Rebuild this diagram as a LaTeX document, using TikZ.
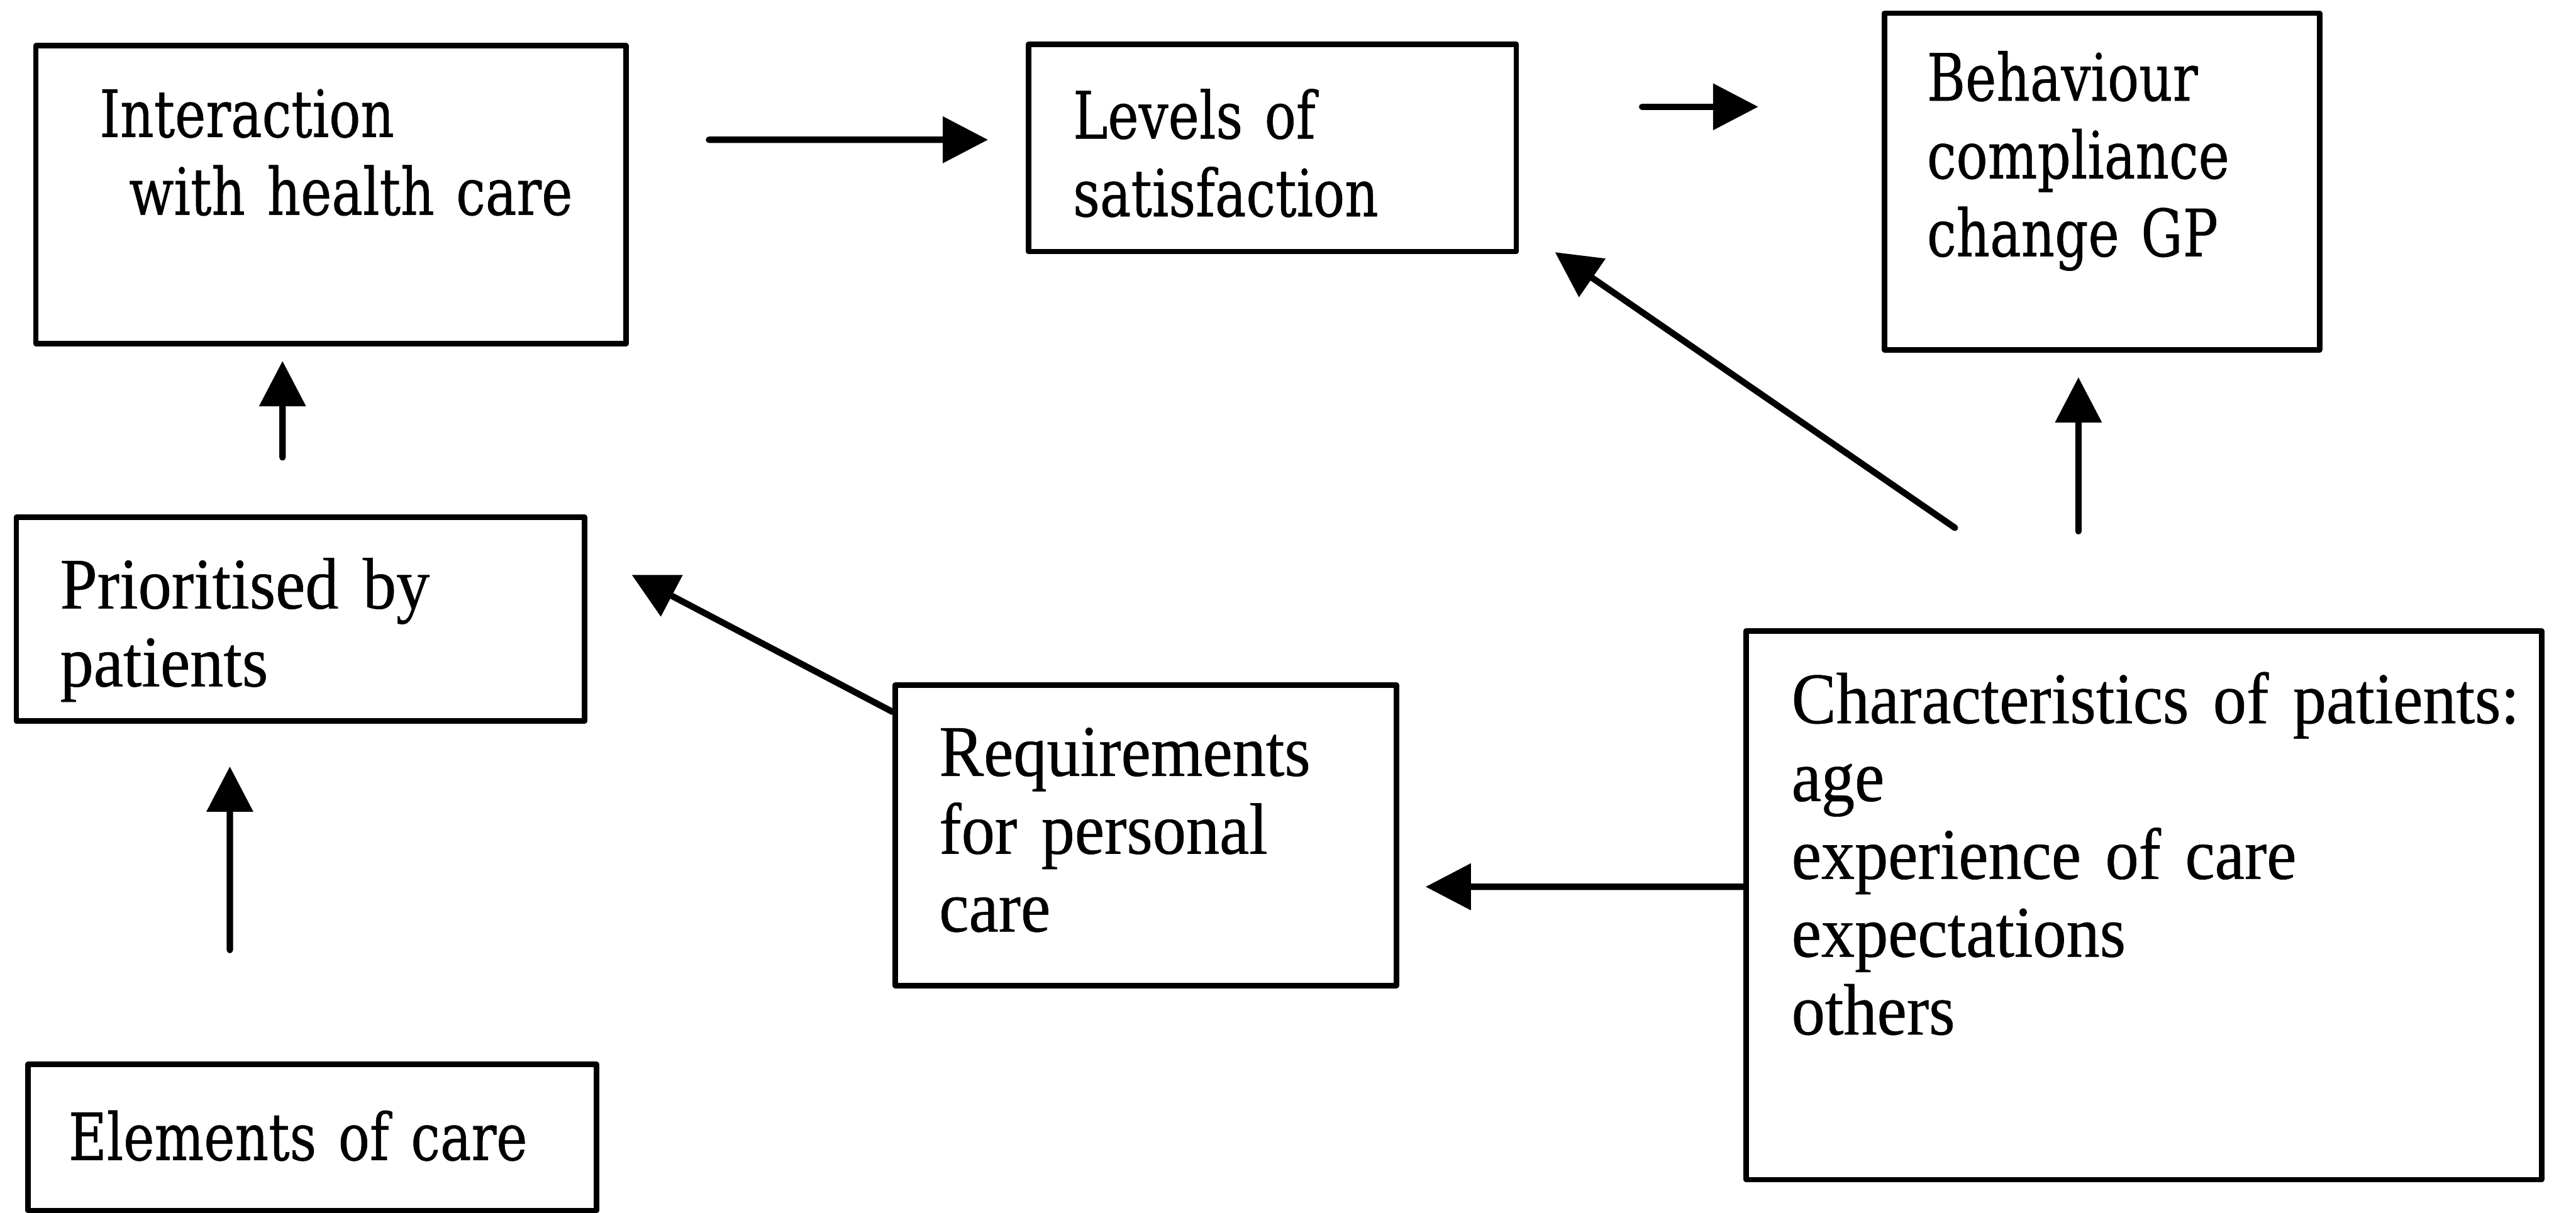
\documentclass[tikz,border=0pt]{standalone}
\usepackage{fontspec}
\setmainfont{Liberation Serif}[FakeStretch=0.92, FakeBold=0.5]
\newfontfamily\slabfont{DejaVu Serif}[FakeStretch=0.8, FakeBold=0.5]
\usetikzlibrary{arrows.meta}

\begin{document}
\begin{tikzpicture}[line cap=round, line join=round, x=1cm, y=1cm,
    >={Triangle[length=0.92cm,width=0.92cm]},
    box/.style={draw, line width=0.11cm, inner sep=0pt},
    txt/.style={anchor=base west, inner sep=0pt, align=left, text width=15cm,
      font=\fontsize{42}{45}\selectfont},
    slab/.style={txt, font=\slabfont\fontsize{37.8}{45}\selectfont},
    arr/.style={->, line width=0.13cm}]
  \useasboundingbox (0,0) rectangle (52.34,-24.64);

  % boxes
  \node[box, minimum width=11.99cm, minimum height=6.05cm] (inter) at (6.725,-3.955) {};
  \node[box, minimum width=9.91cm, minimum height=4.21cm] (levels) at (25.855,-3.005) {};
  \node[box, minimum width=8.84cm, minimum height=6.84cm] (behav) at (42.71,-3.69) {};
  \node[box, minimum width=11.55cm, minimum height=4.14cm] (prio) at (6.105,-12.58) {};
  \node[box, minimum width=10.18cm, minimum height=6.11cm] (req) at (23.28,-16.975) {};
  \node[box, minimum width=11.55cm, minimum height=2.97cm] (elem) at (6.345,-23.115) {};
  \node[box, minimum width=16.16cm, minimum height=11.15cm] (char) at (43.56,-18.395) {};

  % texts
  \node[slab] (intertxt) at ([shift={(1.34,-1.91)}]inter.north west) {Interaction\\\hspace*{0.6cm}with health care};
  \node[slab] (levelstxt) at ([shift={(0.95,-1.97)}]levels.north west) {Levels of\\satisfaction};
  \node[slab] (behavtxt) at ([shift={(0.91,-1.83)}]behav.north west) {Behaviour\\compliance\\change GP};
  \node[txt] (priotxt) at ([shift={(0.94,-1.91)}]prio.north west) {Prioritised by\\patients};
  \node[txt] (reqtxt) at ([shift={(0.94,-1.90)}]req.north west) {Requirements\\for personal\\care};
  \node[slab] (elemtxt) at ([shift={(0.87,-2.00)}]elem.north west) {Elements of care};
  \node[txt] (chartxt) at ([shift={(0.97,-1.93)}]char.north west) {Characteristics of patients:\\age\\experience of care\\expectations\\others};

  % arrows
  \draw[arr] ([shift={(1.63,1.115)}]inter.east) -- ([shift={(-0.77,0.165)}]levels.west);
  \draw[arr] ([shift={(2.50,0.835)}]levels.east) -- ([shift={(-2.51,1.52)}]behav.west);
  \draw[arr] ([shift={(-0.365,1.16)}]prio.north) -- ([shift={(-0.985,-0.30)}]inter.south);
  \draw[arr] ([shift={(-1.675,2.27)}]elem.north) -- ([shift={(-1.435,-0.87)}]prio.south);
  \draw[arr] ([shift={(0,-0.60)}]req.north west) -- ([shift={(0.90,0.90)}]prio.east);
  \draw[arr] ([shift={(0,0.375)}]char.west) -- ([shift={(0.54,-1.045)}]req.east);
  \draw[arr] ([shift={(-3.84,2.04)}]char.north) -- ([shift={(0.73,0.04)}]levels.south east);
  \draw[arr] ([shift={(-1.33,1.97)}]char.north) -- ([shift={(-0.48,-0.50)}]behav.south);
\end{tikzpicture}
\end{document}
